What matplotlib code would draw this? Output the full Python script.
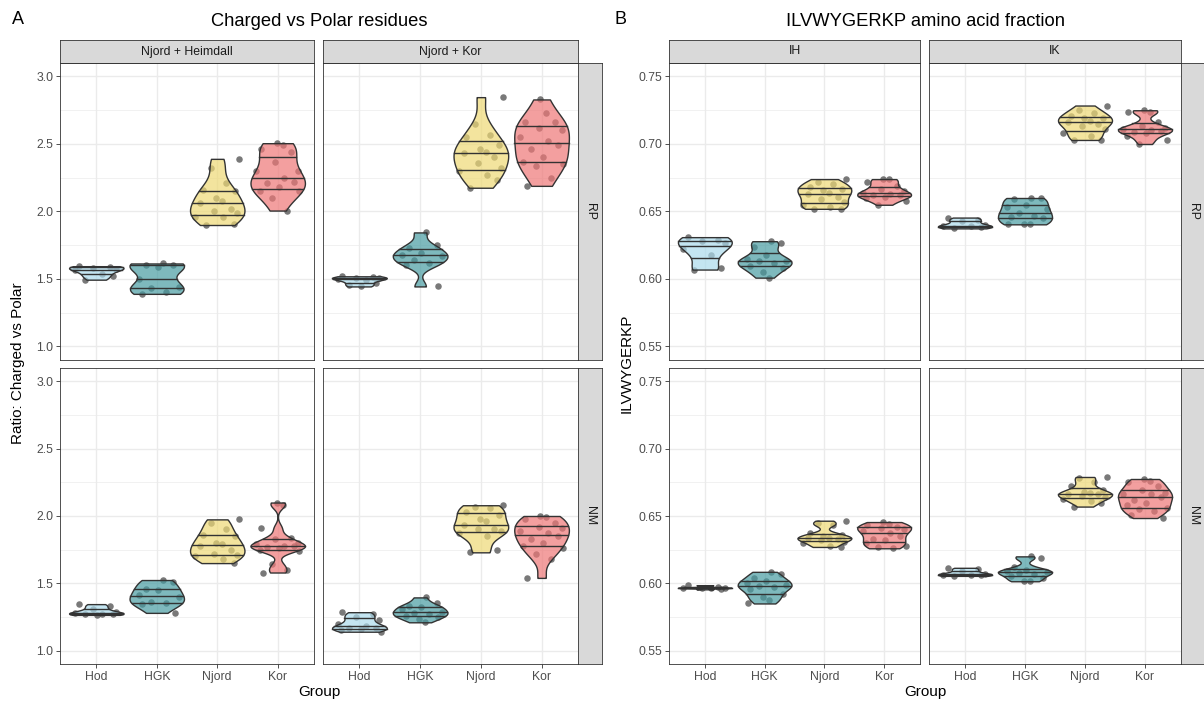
import numpy as np
import matplotlib.pyplot as plt
from matplotlib.colors import to_rgba

plt.rcParams['font.family'] = ['Liberation Sans', 'DejaVu Sans']

groups = ['Hod', 'HGK', 'Njord', 'Kor']
fills = ['#ABDBEC', '#489CA2', '#EED975', '#EE7777']

# Panel A - ratio charged vs polar, one list per group (Hod, HGK, Njord, Kor)
chg_heimdall_rp = [
    [1.595, 1.59, 1.585, 1.575, 1.565, 1.54, 1.52, 1.495],
    [1.615, 1.605, 1.60, 1.59, 1.50, 1.44, 1.43, 1.40, 1.39],
    [2.39, 2.32, 2.21, 2.16, 2.15, 2.10, 2.08, 2.06, 2.02, 2.00, 1.99, 1.96, 1.96, 1.905, 1.90],
    [2.506, 2.49, 2.46, 2.44, 2.37, 2.30, 2.30, 2.25, 2.22, 2.21, 2.18, 2.15, 2.15, 2.10, 2.007],
]
chg_kor_rp = [
    [1.52, 1.515, 1.51, 1.505, 1.50, 1.49, 1.47, 1.455, 1.445],
    [1.845, 1.75, 1.73, 1.69, 1.68, 1.67, 1.64, 1.62, 1.60, 1.445],
    [2.847, 2.65, 2.57, 2.55, 2.49, 2.46, 2.44, 2.43, 2.40, 2.36, 2.32, 2.30, 2.27, 2.23, 2.176],
    [2.83, 2.73, 2.66, 2.66, 2.62, 2.60, 2.55, 2.52, 2.49, 2.46, 2.40, 2.37, 2.35, 2.34, 2.25, 2.19],
]
chg_heimdall_nm = [
    [1.345, 1.33, 1.31, 1.29, 1.28, 1.275, 1.27, 1.27, 1.265],
    [1.524, 1.51, 1.46, 1.45, 1.41, 1.40, 1.36, 1.35, 1.345, 1.28],
    [1.975, 1.95, 1.90, 1.86, 1.85, 1.80, 1.79, 1.78, 1.75, 1.72, 1.71, 1.70, 1.68, 1.65],
    [2.10, 2.08, 1.91, 1.84, 1.83, 1.80, 1.79, 1.78, 1.78, 1.77, 1.76, 1.75, 1.74, 1.64, 1.60, 1.58],
]
chg_kor_nm = [
    [1.285, 1.27, 1.25, 1.23, 1.20, 1.18, 1.17, 1.165, 1.16, 1.155, 1.14],
    [1.395, 1.35, 1.33, 1.32, 1.31, 1.29, 1.28, 1.275, 1.26, 1.25, 1.235, 1.21],
    [2.08, 2.07, 2.06, 2.03, 2.01, 1.98, 1.96, 1.93, 1.90, 1.90, 1.89, 1.87, 1.85, 1.75, 1.73],
    [2.00, 1.99, 1.98, 1.95, 1.92, 1.91, 1.89, 1.87, 1.85, 1.83, 1.80, 1.78, 1.76, 1.72, 1.68, 1.54],
]

# Panel B - ILVWYGERKP fraction
ilv_ih_rp = [
    [0.631, 0.629, 0.628, 0.627, 0.622, 0.618, 0.608, 0.607],
    [0.628, 0.627, 0.624, 0.618, 0.615, 0.613, 0.613, 0.612, 0.610, 0.608, 0.605, 0.601],
    [0.674, 0.672, 0.670, 0.668, 0.667, 0.666, 0.664, 0.663, 0.661, 0.659, 0.657, 0.655, 0.653, 0.652, 0.652],
    [0.674, 0.674, 0.672, 0.669, 0.667, 0.665, 0.664, 0.663, 0.662, 0.662, 0.661, 0.660, 0.658, 0.655],
]
ilv_ik_rp = [
    [0.6455, 0.644, 0.643, 0.640, 0.639, 0.639, 0.6385, 0.6375],
    [0.660, 0.660, 0.659, 0.655, 0.653, 0.652, 0.649, 0.647, 0.646, 0.645, 0.641, 0.6405, 0.6405],
    [0.7285, 0.725, 0.723, 0.721, 0.719, 0.719, 0.717, 0.716, 0.715, 0.713, 0.711, 0.708, 0.706, 0.703, 0.703],
    [0.725, 0.724, 0.7235, 0.716, 0.713, 0.712, 0.711, 0.7105, 0.710, 0.709, 0.708, 0.706, 0.703, 0.700],
]
ilv_ih_nm = [
    [0.5985, 0.597, 0.5968, 0.5966, 0.5965, 0.5963, 0.5955],
    [0.6085, 0.607, 0.604, 0.6015, 0.6005, 0.5985, 0.598, 0.597, 0.596, 0.592, 0.590, 0.5875, 0.585],
    [0.6465, 0.6445, 0.6435, 0.637, 0.636, 0.635, 0.634, 0.6335, 0.633, 0.632, 0.631, 0.630, 0.6275, 0.627],
    [0.6455, 0.644, 0.643, 0.642, 0.641, 0.640, 0.639, 0.637, 0.635, 0.633, 0.632, 0.630, 0.628, 0.627, 0.626],
]
ilv_ik_nm = [
    [0.6115, 0.6105, 0.609, 0.607, 0.6065, 0.6065, 0.606, 0.6055],
    [0.620, 0.6185, 0.612, 0.610, 0.609, 0.6085, 0.608, 0.607, 0.6055, 0.604, 0.602, 0.6015],
    [0.679, 0.6785, 0.675, 0.672, 0.669, 0.668, 0.667, 0.6665, 0.666, 0.665, 0.664, 0.663, 0.661, 0.660, 0.657],
    [0.6775, 0.676, 0.675, 0.672, 0.669, 0.667, 0.666, 0.666, 0.664, 0.662, 0.660, 0.658, 0.656, 0.655, 0.654, 0.651, 0.6485],
]

# fixed horizontal jitter pattern for the points
jitter = [-0.28, 0.22, -0.05, 0.33, -0.36, 0.10, 0.27, -0.18, 0.02,
          -0.30, 0.36, -0.10, 0.15, -0.24, 0.30, -0.02, 0.08]

W, H = 1204, 702
fig = plt.figure(figsize=(W / 100, H / 100), dpi=100)


def box(l, t, r, b):
    return [l / W, 1 - b / H, (r - l) / W, (b - t) / H]


def nrd0(kde):
    # R's bw.nrd0, as used by ggplot's violins
    d = kde.dataset.ravel()
    sd = d.std(ddof=1)
    q75, q25 = np.percentile(d, [75, 25])
    lo = min(sd, (q75 - q25) / 1.34) if q75 > q25 else sd
    return 0.9 * lo * len(d) ** -0.2 / sd


def draw_facet(ax, data, ylim, yticks, yminor, fmt, left, bottom):
    for i, vals in enumerate(data):
        pos = i + 1
        xs = [pos + jitter[(k + 5 * i) % len(jitter)] for k in range(len(vals))]
        ax.scatter(xs, vals, s=22, color='#404040', alpha=0.7, lw=0, zorder=2)
        vp = ax.violinplot([vals], positions=[pos], widths=0.9, showextrema=False,
                           bw_method=nrd0)
        body = vp['bodies'][0]
        body.set_alpha(None)
        body.set_facecolor(to_rgba(fills[i], 0.7))
        body.set_edgecolor('#333333')
        body.set_linewidth(1.0)
        body.set_zorder(3)
        # quantile lines clipped to the violin outline
        v = body.get_paths()[0].vertices
        right = v[v[:, 0] > pos]
        order = np.argsort(right[:, 1])
        ys, hw = right[order, 1], right[order, 0] - pos
        for q in np.quantile(vals, [0.25, 0.5, 0.75]):
            w = np.interp(q, ys, hw)
            ax.plot([pos - w, pos + w], [q, q], color='#333333', lw=1.0, zorder=4)
    ax.set_xlim(0.4, 4.6)
    ax.set_ylim(*ylim)
    ax.set_xticks([1, 2, 3, 4])
    ax.set_yticks(yticks)
    ax.set_yticks(yminor, minor=True)
    ax.grid(which='major', color='#EBEBEB', lw=1.0)
    ax.grid(which='minor', axis='y', color='#EBEBEB', lw=0.5)
    ax.set_axisbelow(True)
    ax.tick_params(which='minor', length=0)
    ax.tick_params(which='major', length=2.75, width=0.6, color='#333333',
                   labelsize=8.8, labelcolor='#4D4D4D', pad=2)
    if bottom:
        ax.set_xticklabels(groups)
    else:
        ax.tick_params(axis='x', length=0, labelbottom=False)
    if left:
        ax.set_yticklabels([fmt.format(t) for t in yticks])
    else:
        ax.tick_params(axis='y', length=0, labelleft=False)
    for s in ax.spines.values():
        s.set_color('#333333')
        s.set_linewidth(0.6)


def strip(rect, label, rotate=False):
    s = fig.add_axes(rect)
    s.set_facecolor('#D9D9D9')
    s.set_xticks([])
    s.set_yticks([])
    for sp in s.spines.values():
        sp.set_color('#333333')
        sp.set_linewidth(0.6)
    s.text(0.5, 0.5, label, transform=s.transAxes, ha='center', va='center',
           fontsize=8.8, color='#1A1A1A', rotation=-90 if rotate else 0)


def fig_text(x, y, s, **kw):
    fig.text(x / W, 1 - y / H, s, **kw)


rows = [(63, 360), (368, 664)]
row_names = ['RP', 'NM']

panels = [
    {'cols': [(60, 314), (323, 578)], 'strip_r': (578, 602),
     'names': ['Njord + Heimdall', 'Njord + Kor'],
     'data': [[chg_heimdall_rp, chg_kor_rp], [chg_heimdall_nm, chg_kor_nm]],
     'ylim': (0.9, 3.1), 'yticks': [1.0, 1.5, 2.0, 2.5, 3.0],
     'yminor': [1.25, 1.75, 2.25, 2.75], 'fmt': '{:.1f}'},
    {'cols': [(669, 920), (929, 1181)], 'strip_r': (1181, 1205),
     'names': ['IH', 'IK'],
     'data': [[ilv_ih_rp, ilv_ik_rp], [ilv_ih_nm, ilv_ik_nm]],
     'ylim': (0.54, 0.76), 'yticks': [0.55, 0.60, 0.65, 0.70, 0.75],
     'yminor': [0.575, 0.625, 0.675, 0.725], 'fmt': '{:.2f}'},
]

for p in panels:
    for r, (t, b) in enumerate(rows):
        for c, (l, rr) in enumerate(p['cols']):
            ax = fig.add_axes(box(l, t, rr, b))
            draw_facet(ax, p['data'][r][c], p['ylim'], p['yticks'], p['yminor'],
                       p['fmt'], left=(c == 0), bottom=(r == 1))
        sl, sr = p['strip_r']
        strip(box(sl, t, sr, b), row_names[r], rotate=True)
    for c, (l, rr) in enumerate(p['cols']):
        strip(box(l, 40, rr, 63), p['names'][c])

# titles, tags and axis titles
fig_text(18, 19, 'A', fontsize=13, ha='center', va='center')
fig_text(620, 19, 'B', fontsize=13, ha='center', va='center')
fig_text(319, 22, 'Charged vs Polar residues', fontsize=13.2, ha='center', va='center')
fig_text(925, 22, 'ILVWYGERKP amino acid fraction', fontsize=13.2, ha='center', va='center')
fig_text(18, 363, 'Ratio: Charged vs Polar', fontsize=11, rotation=90, ha='center', va='center')
fig_text(627, 363, 'ILVWYGERKP', fontsize=11, rotation=90, ha='center', va='center')
fig_text(319, 692, 'Group', fontsize=11, ha='center', va='center')
fig_text(925, 692, 'Group', fontsize=11, ha='center', va='center')

fig.savefig('out.png', dpi=100, facecolor='white')
